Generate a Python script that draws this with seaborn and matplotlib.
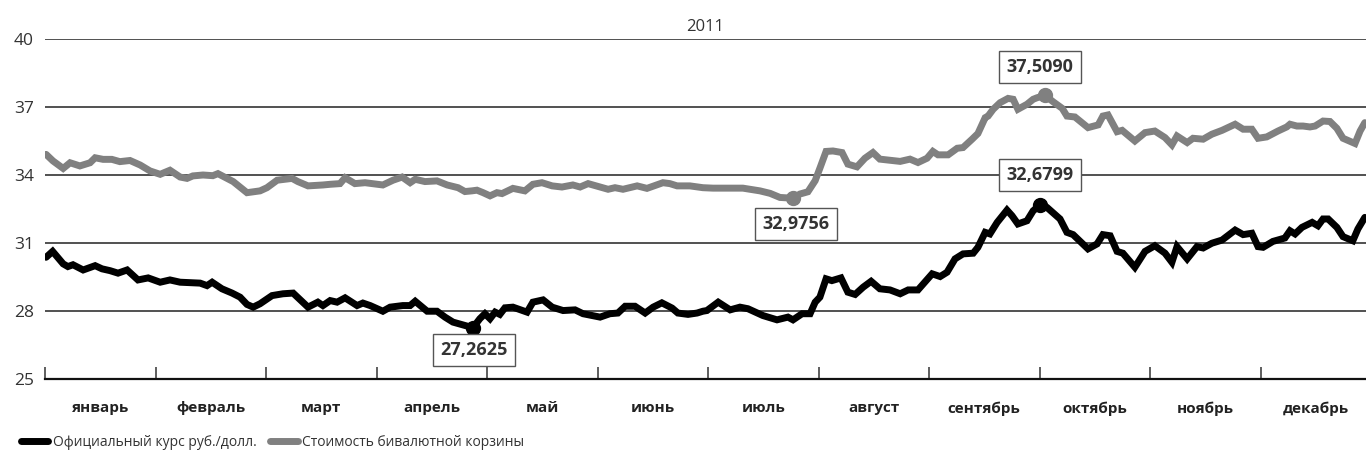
import numpy as np
import pandas as pd
import matplotlib
matplotlib.use("Agg")
import matplotlib.pyplot as plt
import seaborn as sns

# ---------------- data ----------------
months = ["январь", "февраль", "март", "апрель", "май", "июнь",
          "июль", "август", "сентябрь", "октябрь", "ноябрь", "декабрь"]
year_label = "2011"
yticks = [25, 28, 31, 34, 37, 40]

usd_days = [0.3, 2.1, 5.0, 6.3, 7.7, 10.5, 13.8, 15.7, 17.9, 20.1, 22.6, 25.6, 28.4, 31.7, 34.4,
            37.2, 42.7, 44.6, 46.0, 48.7, 51.5, 53.7, 55.6, 57.3, 59.2, 62.5, 65.5, 68.3, 72.4,
            75.1, 76.5, 78.5, 80.4, 82.6, 85.9, 87.5, 89.5, 93.0, 95.0, 98.5, 100.5, 101.9,
            105.2, 107.9, 110.1, 112.3, 115.6, 117.8, 119.7, 121.1, 122.5, 123.9, 125.2, 126.6,
            128.8, 132.7, 134.3, 137.1, 139.6, 142.6, 145.9, 148.1, 150.6, 152.8, 155.5, 157.7,
            159.7, 162.4, 165.2, 167.4, 169.8, 172.6, 174.2, 177.0, 179.5, 181.1, 182.2, 185.3,
            188.6, 191.3, 193.5, 197.6, 201.5, 204.5, 205.9, 208.4, 210.6, 212.0, 213.3, 215.0,
            216.6, 219.1, 221.0, 223.0, 225.2, 227.4, 229.8, 232.6, 235.4, 237.6, 240.3, 244.2,
            246.4, 248.3, 250.5, 252.7, 255.5, 256.8, 258.8, 260.1, 262.1, 264.8, 266.2, 267.8,
            270.3, 272.0, 273.9, 275.8, 279.4, 281.3, 283.0, 287.1, 289.6, 291.2, 293.2, 295.1,
            296.7, 300.0, 302.8, 305.5, 308.3, 310.2, 311.6, 314.4, 317.1, 318.8, 321.2, 324.0,
            327.6, 329.8, 332.2, 333.9, 335.3, 338.0, 341.3, 342.7, 344.1, 346.0, 348.8, 350.4,
            351.8, 353.2, 355.6, 357.3, 360.0, 361.4, 363.3]
usd_vals = [30.37, 30.63, 30.08, 29.96, 30.04, 29.81, 30.00, 29.86, 29.78, 29.67, 29.81, 29.37,
            29.46, 29.27, 29.37, 29.27, 29.23, 29.12, 29.27, 28.98, 28.79, 28.61, 28.29, 28.17,
            28.32, 28.68, 28.76, 28.79, 28.17, 28.39, 28.24, 28.46, 28.39, 28.58, 28.24, 28.35,
            28.24, 27.99, 28.17, 28.24, 28.24, 28.43, 27.99, 27.99, 27.73, 27.51, 27.36, 27.2625,
            27.66, 27.88, 27.66, 27.95, 27.85, 28.14, 28.17, 27.95, 28.39, 28.49, 28.17, 28.02,
            28.05, 27.88, 27.80, 27.73, 27.88, 27.91, 28.21, 28.21, 27.91, 28.17, 28.36, 28.13,
            27.91, 27.85, 27.91, 27.99, 28.02, 28.39, 28.05, 28.17, 28.10, 27.80, 27.61, 27.73,
            27.61, 27.88, 27.88, 28.39, 28.61, 29.42, 29.34, 29.46, 28.83, 28.73, 29.05, 29.31,
            28.98, 28.93, 28.76, 28.93, 28.93, 29.64, 29.52, 29.71, 30.30, 30.52, 30.55, 30.81,
            31.47, 31.40, 31.91, 32.45, 32.20, 31.84, 31.98, 32.42, 32.6799, 32.57, 32.06, 31.47,
            31.37, 30.74, 30.96, 31.37, 31.32, 30.63, 30.55, 29.93, 30.63, 30.88, 30.55, 30.15,
            30.84, 30.30, 30.84, 30.78, 30.99, 31.13, 31.57, 31.37, 31.43, 30.84, 30.81, 31.07,
            31.22, 31.54, 31.40, 31.69, 31.91, 31.76, 32.06, 32.06, 31.69, 31.28, 31.10, 31.62,
            32.13]

basket_days = [0.3, 2.2, 5.0, 6.9, 9.6, 12.4, 13.8, 16.0, 18.4, 20.6, 23.4, 26.2, 28.9, 31.7,
               34.4, 37.2, 39.1, 40.7, 43.5, 46.2, 47.6, 51.8, 55.6, 59.2, 61.1, 63.9, 68.0, 69.6,
               72.4, 76.5, 78.5, 81.2, 82.6, 85.3, 88.1, 93.0, 95.8, 98.3, 100.5, 101.9, 104.6,
               107.9, 110.7, 113.7, 115.6, 117.5, 118.9, 120.6, 122.5, 124.4, 125.8, 128.8, 132.1,
               134.3, 136.8, 139.6, 142.3, 145.3, 147.3, 149.5, 152.8, 155.0, 156.9, 159.1, 163.0,
               165.7, 170.1, 172.0, 174.0, 177.5, 181.1, 183.9, 187.7, 192.1, 196.8, 199.6, 202.3,
               205.9, 207.8, 210.0, 212.0, 213.3, 215.0, 216.9, 219.4, 221.0, 223.5, 225.7, 227.9,
               229.8, 232.6, 235.4, 238.1, 240.3, 242.8, 244.4, 245.8, 248.6, 251.1, 252.7, 255.2,
               256.8, 258.8, 259.6, 261.0, 262.9, 265.1, 266.5, 267.8, 270.3, 272.0, 273.1, 275.3,
               277.5, 280.0, 281.3, 283.5, 287.1, 289.9, 291.2, 292.6, 295.1, 296.5, 300.0, 302.8,
               305.5, 308.3, 310.2, 311.6, 314.4, 316.0, 318.8, 321.2, 324.0, 327.6, 329.8, 332.2,
               333.9, 336.3, 339.4, 341.8, 342.7, 344.6, 346.3, 348.2, 349.6, 351.8, 353.7, 355.6,
               357.3, 360.6, 362.0, 363.3]
basket_vals = [34.91, 34.62, 34.29, 34.54, 34.40, 34.54, 34.76, 34.69, 34.69, 34.59, 34.64, 34.44,
               34.18, 34.03, 34.21, 33.91, 33.85, 33.96, 34.00, 33.97, 34.06, 33.71, 33.22, 33.30,
               33.44, 33.77, 33.85, 33.71, 33.52, 33.56, 33.59, 33.62, 33.88, 33.62, 33.66, 33.56,
               33.77, 33.91, 33.66, 33.81, 33.71, 33.74, 33.56, 33.44, 33.27, 33.30, 33.33, 33.22,
               33.08, 33.22, 33.18, 33.41, 33.30, 33.59, 33.66, 33.52, 33.47, 33.56, 33.47, 33.62,
               33.47, 33.37, 33.44, 33.37, 33.52, 33.41, 33.66, 33.62, 33.52, 33.52, 33.44, 33.42,
               33.42, 33.42, 33.30, 33.19, 33.01, 32.9756, 33.16, 33.26, 33.75, 34.30, 35.04, 35.06,
               34.99, 34.48, 34.36, 34.74, 34.99, 34.70, 34.65, 34.60, 34.70, 34.55, 34.74, 35.04,
               34.89, 34.89, 35.18, 35.21, 35.58, 35.83, 36.53, 36.60, 36.90, 37.19, 37.38, 37.34,
               36.90, 37.12, 37.34, 37.41, 37.509, 37.23, 36.94, 36.60, 36.56, 36.09, 36.21, 36.60,
               36.65, 35.91, 35.97, 35.50, 35.87, 35.94, 35.65, 35.33, 35.72, 35.43, 35.62, 35.58,
               35.80, 35.97, 36.24, 36.02, 36.02, 35.62, 35.68, 35.94, 36.12, 36.24, 36.16, 36.16,
               36.12, 36.16, 36.38, 36.36, 36.06, 35.62, 35.39, 35.94, 36.31]

usd_label = "Официальный курс руб./долл."
basket_label = "Стоимость бивалютной корзины"

# ---------------- styling ----------------
sns.set_theme(style="white")
plt.rcParams["font.family"] = ["Open Sans", "DejaVu Sans"]

BLACK = "#000000"
GREY = "#808080"
TXT = "#333333"

fig = plt.figure(figsize=(13.66, 4.61), dpi=100)
ax = fig.add_axes([45 / 1366, 1 - 379 / 461, 1 - 45 / 1366, (379 - 39) / 461])

df_usd = pd.DataFrame({"day": usd_days, "value": usd_vals})
df_bsk = pd.DataFrame({"day": basket_days, "value": basket_vals})

for yv in yticks[1:]:
    ax.axhline(yv, color="#222222", lw=1.1, zorder=1)

sns.lineplot(data=df_bsk, x="day", y="value", ax=ax, color=GREY, lw=4.2,
             solid_joinstyle="miter", zorder=3, label=basket_label)
sns.lineplot(data=df_usd, x="day", y="value", ax=ax, color=BLACK, lw=4.4,
             solid_joinstyle="miter", zorder=4, label=usd_label)

# extreme markers and labels
def fmt(v):
    return f"{v:.4f}".replace(".", ",")

bbox = dict(boxstyle="square,pad=0.4", fc="white", ec="#555555", lw=1.0)
i_usd_min = int(np.argmin(usd_vals)); i_usd_max = int(np.argmax(usd_vals))
i_bsk_min = int(np.argmin(basket_vals)); i_bsk_max = int(np.argmax(basket_vals))
ax.plot([usd_days[i_usd_min], usd_days[i_usd_max]], [usd_vals[i_usd_min], usd_vals[i_usd_max]],
        "o", color=BLACK, ms=10, zorder=5)
ax.plot([basket_days[i_bsk_min], basket_days[i_bsk_max]], [basket_vals[i_bsk_min], basket_vals[i_bsk_max]],
        "o", color=GREY, ms=10, zorder=5)
kw = dict(ha="center", va="center", fontsize=13, fontweight="bold", color=TXT, bbox=bbox, zorder=6)
ax.text(usd_days[i_usd_min] + 0.3, 26.28, fmt(usd_vals[i_usd_min]), **kw)
ax.text(usd_days[i_usd_max], 34.0, fmt(usd_vals[i_usd_max]), **kw)
ax.text(basket_days[i_bsk_min] + 0.8, 31.84, fmt(basket_vals[i_bsk_min]), **kw)
ax.text(basket_days[i_bsk_max] - 1.4, 38.76, fmt(basket_vals[i_bsk_max]), **kw)

# axes
span = 365.0
ax.set_xlim(0, (1366 - 45) * span / 1326)
ax.set_ylim(25, 40)
ax.set_yticks(yticks)
ax.set_yticklabels([str(v) for v in yticks])
month_w = span / 12
ax.set_xticks([i * month_w for i in range(12)])
ax.set_xticklabels([])
ax.set_xticks([(i + 0.5) * month_w for i in range(12)], minor=True)
ax.set_xticklabels(months, minor=True, fontsize=11, fontweight="bold", color="#222222")
ax.tick_params(axis="x", which="major", direction="in", length=9, width=1.1, color="#333333",
               bottom=True, pad=0)
ax.tick_params(axis="x", which="minor", length=0, pad=16)
ax.tick_params(axis="y", length=0, pad=8, labelsize=12.5, labelcolor=TXT)
for s in ["top", "right", "left"]:
    ax.spines[s].set_visible(False)
ax.spines["bottom"].set_color("#111111")
ax.spines["bottom"].set_linewidth(1.6)
ax.set_xlabel("")
ax.set_ylabel("")
ax.set_title(year_label, fontsize=12, color=TXT, pad=6)
ax.grid(False)

# legend
handles, labels = ax.get_legend_handles_labels()
ax.get_legend().remove()
order = [labels.index(usd_label), labels.index(basket_label)]
hs = [handles[i] for i in order]
for h in hs:
    h.set_solid_capstyle("round")
    h.set_linewidth(5)
fig.legend(hs, [labels[i] for i in order], loc="center left",
           bbox_to_anchor=(0.006, 1 - 442 / 461), ncol=2, frameon=False,
           handlelength=2.0, handletextpad=0.3, columnspacing=1.0,
           prop={"size": 10}, labelcolor=TXT)

fig.savefig("out.png", dpi=100)
